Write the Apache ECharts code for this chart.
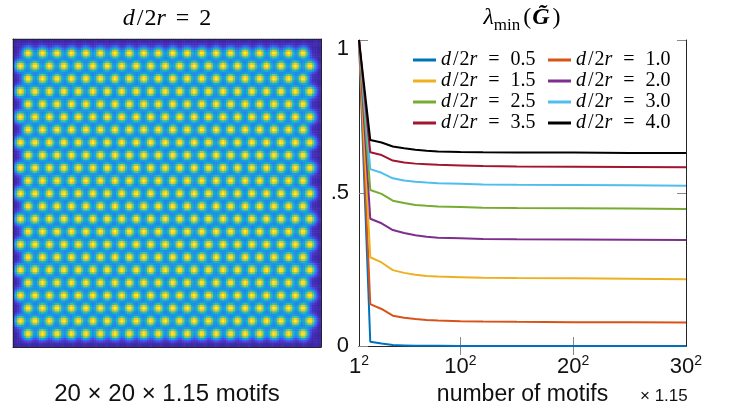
<!DOCTYPE html>
<html><head><meta charset="utf-8">
<script src="https://cdn.jsdelivr.net/npm/echarts@6/dist/echarts.min.js"></script>
<style>html,body{margin:0;padding:0;background:#fff}#c{width:730px;height:414px}</style>
</head><body><div id="c"></div>
<script>
// ---------- Right panel data (side length n; number of motifs = n^2 x 1.15) ----------
const motifSide = [1, 2, 3, 4, 5, 6, 7, 8, 10, 12, 15, 20, 25, 30];
const ratioNames = ['d/2r = 0.5','d/2r = 1.0','d/2r = 1.5','d/2r = 2.0','d/2r = 2.5','d/2r = 3.0','d/2r = 3.5','d/2r = 4.0'];
const lam05 = [1, 0.014, 0.008, 0.003, 0.002, 0.001, 0.001, 0.001, 0, 0, 0, 0, 0, 0];
const lam10 = [1, 0.137, 0.121, 0.099, 0.092, 0.088, 0.085, 0.083, 0.081, 0.080, 0.079, 0.078, 0.078, 0.077];
const lam15 = [1, 0.290, 0.273, 0.248, 0.239, 0.233, 0.229, 0.227, 0.225, 0.223, 0.222, 0.221, 0.220, 0.218];
const lam20 = [1, 0.416, 0.401, 0.379, 0.369, 0.362, 0.357, 0.354, 0.352, 0.350, 0.349, 0.348, 0.347, 0.346];
const lam25 = [1, 0.510, 0.497, 0.475, 0.467, 0.461, 0.458, 0.456, 0.454, 0.452, 0.451, 0.450, 0.449, 0.448];
const lam30 = [1, 0.578, 0.566, 0.548, 0.541, 0.537, 0.534, 0.532, 0.530, 0.528, 0.527, 0.526, 0.525, 0.524];
const lam35 = [1, 0.633, 0.624, 0.606, 0.600, 0.596, 0.594, 0.592, 0.590, 0.588, 0.587, 0.586, 0.585, 0.584];
const lam40 = [1, 0.673, 0.665, 0.652, 0.646, 0.641, 0.638, 0.636, 0.634, 0.633, 0.632, 0.632, 0.631, 0.631];
const xTickValues = [1, 10, 20, 30];
const xMinorTicks = [10, 20];
const yTickLabels = {0: '0', 0.5: '.5', 1: '1'};

// ---------- Left panel: hexagonal lattice of motifs ----------
const latticeCols = 20;   // motifs per (odd) row
const latticeRows = 23;   // 20 x 1.15 rows

// ---------- styles ----------
const seriesColors = ['#0072BD','#D95319','#EDB120','#7E2F8E','#77AC30','#4DBEEE','#A2142F','#000000'];
const parula = ['#3e26a8','#4745e0','#2f73f4','#1a98e2','#0cb3c9','#3fc29a','#8ec760','#d8be38','#fbce2e','#f9fb15'];
const sansFont = 'Liberation Sans';
const serifFont = 'Liberation Serif';
const axisColor = '#262626';

// heatmap field built from the lattice (image sampled on N x N cells)
const N = 140, imgPx = 308, cell = imgPx / N;
const spX = 14.47 / cell, spY = 12.75 / cell;
const x0Odd = 15.3 / cell, x0Even = 7.7 / cell, y0 = 14.5 / cell, sig = 3.8 / cell;
const centers = [];
for (let r = 0; r < latticeRows; r++) {
  const even = r % 2 === 1;
  const cnt = even ? latticeCols + 1 : latticeCols;
  const xs = even ? x0Even : x0Odd;
  for (let k = 0; k < cnt; k++) centers.push([xs + k * spX, y0 + r * spY]);
}
const heat = [];
const s2 = 2 * sig * sig;
for (let j = 0; j < N; j++) for (let i = 0; i < N; i++) {
  const cx = i + 0.5, cy = j + 0.5; let v = 0;
  for (const c of centers) { const dx = cx - c[0], dy = cy - c[1]; const d2 = dx*dx + dy*dy; if (d2 < 150) v += Math.exp(-d2 / s2); }
  heat.push([i, j, Math.min(v, 1)]);
}
const cats = Array.from({length: N}, (_, i) => i);

const allLam = [lam05, lam10, lam15, lam20, lam25, lam30, lam35, lam40];
const lineSeries = allLam.map((arr, k) => ({
  type: 'line', name: ratioNames[k], xAxisIndex: 2, yAxisIndex: 2,
  data: motifSide.map((n, i) => [n, arr[i]]),
  showSymbol: false, symbol: 'none', clip: false,
  lineStyle: {width: 2, color: seriesColors[k]}, itemStyle: {color: seriesColors[k]}, z: 5
}));

const LF = 20;
const legRich = {
  i: {fontFamily: serifFont, fontStyle: 'italic', fontSize: LF, color: '#000', lineHeight: 18},
  s: {fontFamily: serifFont, fontSize: LF, color: '#000', lineHeight: 18, padding: [0, 1, 0, 2]},
  n: {fontFamily: serifFont, fontSize: LF, color: '#000', lineHeight: 18},
  e: {fontFamily: serifFont, fontSize: LF, color: '#000', lineHeight: 18, padding: [0, 11, 0, 11]}
};
const legFmt = name => { const v = name.split('= ')[1]; return '{i|d}{s|/}{n|2}{i|r}{e|=}{n|' + v + '}'; };
const legendBase = {orient: 'vertical', top: 45, itemWidth: 23, itemHeight: 3, icon: 'rect', itemGap: 1,
  formatter: legFmt, textStyle: {rich: legRich, lineHeight: 18}, selectedMode: false};

const TF = 24;
const chart = echarts.init(document.getElementById('c'), null, {renderer: 'canvas'});
chart.setOption({
  animation: false,
  grid: [
    {left: 13, top: 39, width: 308, height: 308},
    {left: 359, top: 40, width: 327, height: 306}
  ],
  visualMap: {type: 'continuous', min: 0, max: 1, show: false, seriesIndex: 0, inRange: {color: parula}},
  legend: [
    Object.assign({}, legendBase, {left: 408, data: [ratioNames[0], ratioNames[2], ratioNames[4], ratioNames[6]]}),
    Object.assign({}, legendBase, {left: 543, data: [ratioNames[1], ratioNames[3], ratioNames[5], ratioNames[7]]})
  ],
  xAxis: [
    {type: 'category', gridIndex: 0, data: cats, position: 'bottom', z: 10,
     axisLine: {lineStyle: {color: axisColor, width: 1}}, axisTick: {show: false}, axisLabel: {show: false}, splitLine: {show: false},
     name: '20 × 20 × 1.15 motifs', nameLocation: 'middle', nameGap: 35,
     nameTextStyle: {fontFamily: sansFont, fontSize: 24, color: '#111'}},
    {type: 'category', gridIndex: 0, data: cats, position: 'top', z: 10,
     axisLine: {lineStyle: {color: axisColor, width: 1}}, axisTick: {show: false}, axisLabel: {show: false}, splitLine: {show: false},
     name: '{i|d}{s|/}{n|2}{i|r}{e|=}{n|2}', nameLocation: 'middle', nameGap: 8,
     nameTextStyle: {rich: {
       i: {fontFamily: serifFont, fontStyle: 'italic', fontSize: TF, color: '#000'},
       s: {fontFamily: serifFont, fontSize: TF, color: '#000', padding: [0, 1, 0, 2]},
       n: {fontFamily: serifFont, fontSize: TF, color: '#000'},
       e: {fontFamily: serifFont, fontSize: TF, color: '#000', padding: [0, 10, 0, 10]}}}},
    {type: 'value', gridIndex: 1, min: 1, max: 30, position: 'bottom',
     axisLine: {lineStyle: {color: axisColor, width: 1}},
     axisTick: {show: true, inside: true, length: 9, customValues: xMinorTicks, lineStyle: {color: '#888'}},
     axisLabel: {show: true, customValues: xTickValues, margin: 8,
       formatter: v => '{b|' + v + '}{s|2}',
       rich: {b: {fontFamily: sansFont, fontSize: 22, color: '#111', lineHeight: 26},
              s: {fontFamily: sansFont, fontSize: 14, color: '#111', verticalAlign: 'top', lineHeight: 14}}},
     splitLine: {show: false},
     name: 'number of motifs', nameLocation: 'middle', nameGap: 36,
     nameTextStyle: {fontFamily: sansFont, fontSize: 23, color: '#111'}},
    {type: 'value', gridIndex: 1, min: 1, max: 30, position: 'top',
     axisLine: {lineStyle: {color: axisColor, width: 1}},
     axisTick: {show: true, inside: true, length: 9, customValues: xMinorTicks, lineStyle: {color: '#888'}},
     axisLabel: {show: false}, splitLine: {show: false},
     name: '{l|λ}{m|min}{p|(}{g|G̃}{p|)}', nameLocation: 'middle', nameGap: 6,
     nameTextStyle: {rich: {
       l: {fontFamily: serifFont, fontStyle: 'italic', fontSize: TF, color: '#000', lineHeight: 32},
       m: {fontFamily: serifFont, fontSize: 17, color: '#000', verticalAlign: 'bottom', lineHeight: 16},
       p: {fontFamily: serifFont, fontSize: TF, color: '#000', lineHeight: 32, padding: [0, 1, 0, 3]},
       g: {fontFamily: serifFont, fontStyle: 'italic', fontWeight: 'bold', fontSize: TF, color: '#000', lineHeight: 32}}}}
  ],
  yAxis: [
    {type: 'category', gridIndex: 0, data: cats, inverse: true, position: 'left', z: 10,
     axisLine: {lineStyle: {color: axisColor, width: 1}}, axisTick: {show: false}, axisLabel: {show: false}, splitLine: {show: false}},
    {type: 'category', gridIndex: 0, data: cats, inverse: true, position: 'right', z: 10,
     axisLine: {lineStyle: {color: axisColor, width: 1}}, axisTick: {show: false}, axisLabel: {show: false}, splitLine: {show: false}},
    {type: 'value', gridIndex: 1, min: 0, max: 1, interval: 0.5, position: 'left',
     axisLine: {show: true, lineStyle: {color: axisColor, width: 1}},
     axisTick: {show: true, inside: true, length: 9, lineStyle: {color: '#888'}},
     axisLabel: {margin: 10, fontFamily: sansFont, fontSize: 22, color: '#111',
       formatter: v => v === 1 ? '{t|1}' : yTickLabels[v],
       rich: {t: {fontFamily: sansFont, fontSize: 22, color: '#111', padding: [18, 0, 0, 0]}}},
     splitLine: {show: false}},
    {type: 'value', gridIndex: 1, min: 0, max: 1, interval: 0.5, position: 'right',
     axisLine: {show: true, lineStyle: {color: axisColor, width: 1}},
     axisTick: {show: true, inside: true, length: 9, lineStyle: {color: '#888'}},
     axisLabel: {show: false}, splitLine: {show: false}}
  ],
  title: [{text: '× 1.15', left: 635, top: 383, textStyle: {fontFamily: sansFont, fontSize: 17, fontWeight: 'normal', color: '#111'}}],
  series: [
    {type: 'heatmap', xAxisIndex: 0, yAxisIndex: 0, data: heat, progressive: 0, emphasis: {disabled: true}}
  ].concat(lineSeries)
});
</script></body></html>
